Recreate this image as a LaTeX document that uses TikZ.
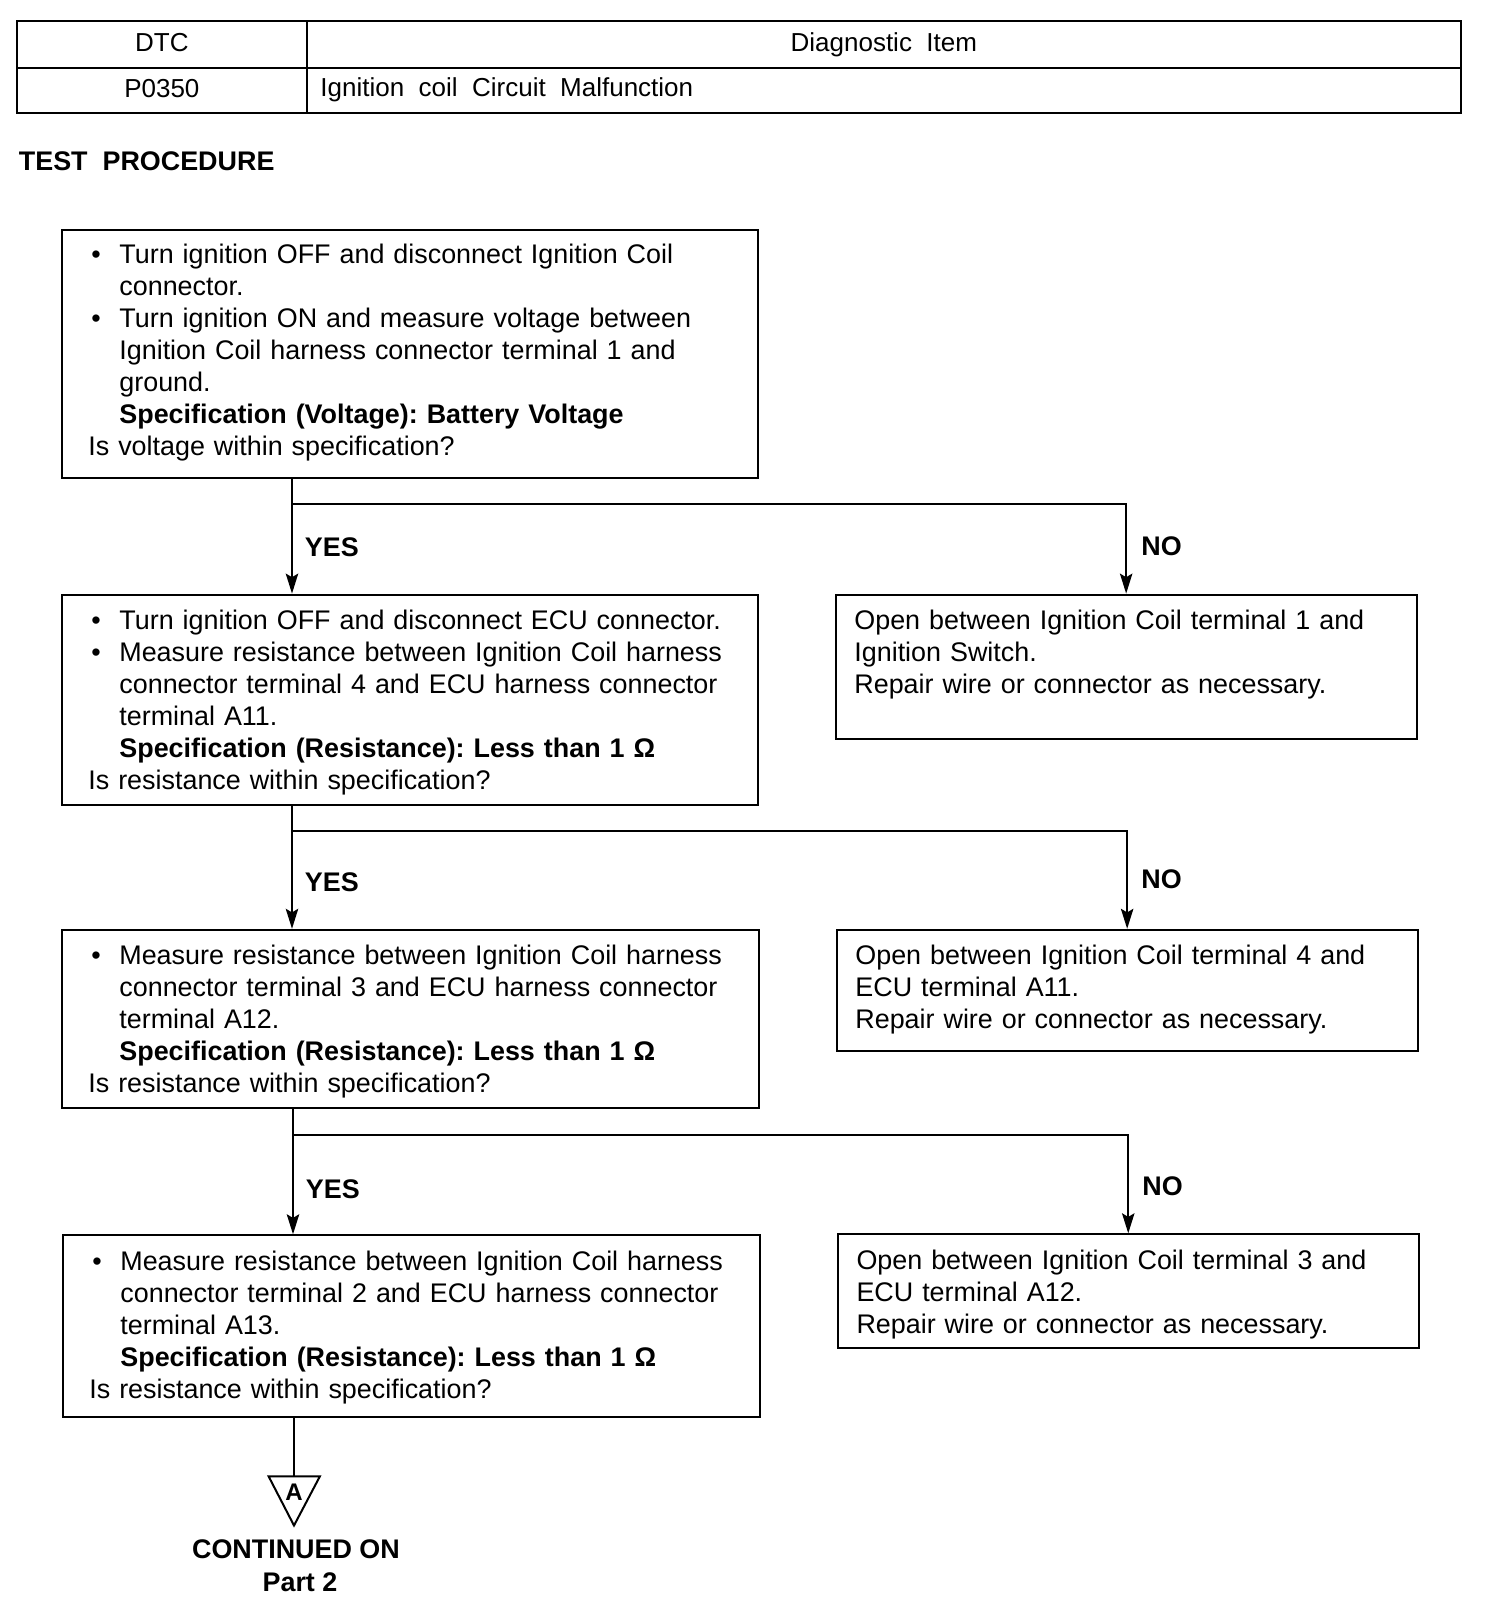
\documentclass[tikz,border=0pt]{standalone}
\usepackage{fontspec}
\setmainfont{Liberation Sans}
\usetikzlibrary{arrows.meta,calc}
\newcommand\bodyfont{\fontsize{13.45pt}{16.05pt}\selectfont\frenchspacing\hyphenpenalty=10000 }
\newcommand\tabfont{\fontsize{13pt}{15pt}\selectfont}
\newcommand\bitem[1]{\hangindent=15.5pt\hangafter=1\noindent\makebox[15.5pt][l]{\hspace{1.5pt}\textbullet}#1\par}
\newcommand\specline[1]{\noindent\hspace*{15.5pt}\textbf{#1}\par}
\tikzset{
  box/.style={draw, line width=1pt, inner sep=0pt, anchor=north west},
  cell/.style={draw, line width=1.1pt, inner sep=0pt, anchor=north west, font=\tabfont, text height=9.4pt, text depth=2.4pt},
  txt/.style={font=\bodyfont, inner sep=0pt, anchor=base west, align=left},
  lbl/.style={font=\bodyfont\bfseries, inner sep=0pt, anchor=west},
  conn/.style={line width=1pt},
  arr/.style={line width=1pt, -{Stealth[length=10pt,width=6.2pt,inset=1.8pt]}},
}
\begin{document}
\begin{tikzpicture}[x=0.5pt,y=-0.5pt]
\useasboundingbox (0,0) rectangle (1504,1608);
% table
\node[cell, minimum width=144.75pt, minimum height=23.55pt] (dtc) at (16,19.5) {DTC};
\node[cell, minimum width=577.25pt, minimum height=23.55pt] (diag) at (305.5,19.5) {Diagnostic\ \ Item};
\node[cell, minimum width=144.75pt, minimum height=22.55pt] (code) at (16,66.6) {P0350};
\node[cell, minimum width=577.25pt, minimum height=22.55pt] (item) at (305.5,66.6) {};
\node[font=\tabfont, inner sep=0pt, anchor=base west] (itemtext) at (320,96) {Ignition\ \ coil\ \ Circuit\ \ Malfunction};
\node[lbl] (title) at (18.5,161) {TEST\ \ PROCEDURE};

% boxes
\node[box, minimum width=348.05pt, minimum height=124.05pt] (b1) at (60.5,228.6) {};
\node[box, minimum width=348.05pt, minimum height=105.1pt] (b2) at (60.5,593.6) {};
\node[box, minimum width=348.55pt, minimum height=89.2pt] (b3) at (60.5,928.8) {};
\node[box, minimum width=348.55pt, minimum height=90.75pt] (b4) at (61.5,1234.3) {};
\node[box, minimum width=290.65pt, minimum height=72.3pt] (n1) at (834.5,593.6) {};
\node[box, minimum width=290.65pt, minimum height=60.5pt] (n2) at (835.5,928.8) {};
\node[box, minimum width=290.65pt, minimum height=56.9pt] (n3) at (836.6,1233.3) {};

% texts
\node[txt, text width=330pt] (t1) at ($(b1.north west)+(27.5,34.4)$) {%
\bitem{Turn ignition OFF and disconnect Ignition Coil\newline connector.}
\bitem{Turn ignition ON and measure voltage between\newline Ignition Coil harness connector terminal 1 and\newline ground.}
\specline{Specification (Voltage): Battery Voltage}
\noindent Is voltage within specification?};

\node[txt, text width=330pt] (t2) at ($(b2.north west)+(27.5,35.4)$) {%
\bitem{Turn ignition OFF and disconnect ECU connector.}
\bitem{Measure resistance between Ignition Coil harness\newline connector terminal 4 and ECU harness connector\newline terminal A11.}
\specline{Specification (Resistance): Less than 1 Ω}
\noindent Is resistance within specification?};

\node[txt, text width=330pt] (t3) at ($(b3.north west)+(27.5,35.7)$) {%
\bitem{Measure resistance between Ignition Coil harness\newline connector terminal 3 and ECU harness connector\newline terminal A12.}
\specline{Specification (Resistance): Less than 1 Ω}
\noindent Is resistance within specification?};

\node[txt, text width=330pt] (t4) at ($(b4.north west)+(27.5,35.7)$) {%
\bitem{Measure resistance between Ignition Coil harness\newline connector terminal 2 and ECU harness connector\newline terminal A13.}
\specline{Specification (Resistance): Less than 1 Ω}
\noindent Is resistance within specification?};

\node[txt, text width=275pt] (m1) at ($(n1.north west)+(19.5,35.4)$) {%
Open between Ignition Coil terminal 1 and\newline Ignition Switch.\newline Repair wire or connector as necessary.};
\node[txt, text width=275pt] (m2) at ($(n2.north west)+(19.5,35.7)$) {%
Open between Ignition Coil terminal 4 and\newline ECU terminal A11.\newline Repair wire or connector as necessary.};
\node[txt, text width=275pt] (m3) at ($(n3.north west)+(19.5,35.7)$) {%
Open between Ignition Coil terminal 3 and\newline ECU terminal A12.\newline Repair wire or connector as necessary.};

% connectors
\coordinate (j1) at (292,504.4);
\coordinate (j2) at (292,831.4);
\coordinate (j3) at (293,1134.9);
\draw[conn] (b1.south -| j1) -- (j1);
\draw[arr] (j1) -- (b2.north -| j1);
\draw[arr] (j1) -| (n1.north);
\draw[conn] (b2.south -| j2) -- (j2);
\draw[arr] (j2) -- (b3.north -| j2);
\draw[arr] (j2) -| (n2.north);
\draw[conn] (b3.south -| j3) -- (j3);
\draw[arr] (j3) -- (b4.north -| j3);
\draw[arr] (j3) -| (n3.north);

\node[lbl] (y1) at (304.5,547.5) {YES};
\node[lbl] (no1) at (1141,546.4) {NO};
\node[lbl] (y2) at (304.5,882.7) {YES};
\node[lbl] (no2) at (1141,879.6) {NO};
\node[lbl] (y3) at (305.5,1189.2) {YES};
\node[lbl] (no3) at (1142,1186) {NO};

% off-page connector
\coordinate (tri) at (294,1476.3);
\draw[conn] (b4.south -| tri) -- (tri);
\draw[line width=1pt, line join=miter] (268.6,1476.3) -- (319.9,1476.3) -- (294,1525.5) -- cycle;
\node[font=\fontsize{12pt}{14pt}\selectfont\bfseries, inner sep=0pt] (A) at (294,1492) {A};
\node[font=\bodyfont\bfseries, align=center, inner sep=0pt] (cont) at (296,1565.5) {CONTINUED ON\\[0.5pt]\hspace*{4pt}Part 2};
\end{tikzpicture}
\end{document}
